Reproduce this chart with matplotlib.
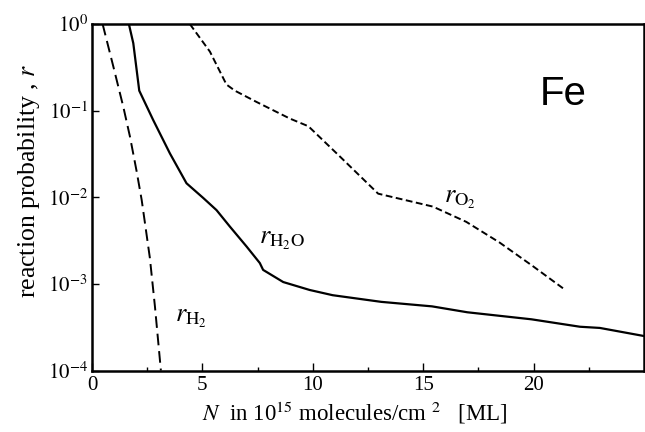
import math
import matplotlib
matplotlib.use("Agg")
import matplotlib.pyplot as plt
from matplotlib.ticker import FixedLocator, FuncFormatter

plt.rcParams['font.family'] = ['Liberation Serif', 'DejaVu Serif']
plt.rcParams['mathtext.fontset'] = 'stix'

# Dados (N em ML, r)
h2_x = [0.48, 0.97, 1.42, 1.72, 2.02, 2.25, 2.40, 2.62, 2.85, 3.12]
h2_r = [1.0, 0.32, 0.11, 0.050, 0.020, 0.0093, 0.0050, 0.0020, 5.5e-4, 1.0e-4]

h2o_x = [1.67, 1.87, 2.14, 2.77, 3.53, 4.28, 5.04, 5.64, 6.24, 7.0, 7.6, 7.75,
         8.66, 9.86, 10.9, 13.1, 15.4, 17.0, 19.9, 22.1, 23.0, 25.0]
h2o_r = [1.0, 0.60, 0.17, 0.078, 0.032, 0.0145, 0.0098, 0.0071, 0.0046, 0.0027,
         0.00174, 0.00145, 0.00105, 0.00085, 0.00074, 0.00062, 0.00055, 0.00047,
         0.00039, 0.00032, 0.00031, 0.00025]

o2_x = [4.43, 5.34, 6.09, 6.47, 7.45, 8.96, 9.8, 11.2, 12.96, 13.5, 15.44,
        16.95, 18.46, 19.97, 21.33]
o2_r = [1.0, 0.48, 0.20, 0.17, 0.126, 0.081, 0.066, 0.030, 0.011, 0.0102,
        0.0078, 0.0052, 0.0030, 0.0016, 0.00089]

x_ticks = [0, 5, 10, 15, 20]
y_ticks = [1e-4, 1e-3, 1e-2, 1e-1, 1e0]

fig = plt.figure(figsize=(6.45, 4.32), dpi=100)
ax = fig.add_axes([92 / 645, 1 - 370.5 / 432, 552 / 645, 346.5 / 432])

ax.plot(h2_x, h2_r, color='black', lw=1.4, dashes=(6, 3))
ax.plot(h2o_x, h2o_r, color='black', lw=1.6)
ax.plot(o2_x, o2_r, color='black', lw=1.4, dashes=(3.5, 1.8))

ax.set_yscale('log')
ax.set_xlim(0, 25)
ax.set_ylim(1e-4, 1)

ax.xaxis.set_major_locator(FixedLocator(x_ticks))
ax.xaxis.set_minor_locator(FixedLocator([2.5, 7.5, 12.5, 17.5, 22.5]))
ax.yaxis.set_major_locator(FixedLocator(y_ticks))
ax.yaxis.set_minor_locator(FixedLocator([]))
ax.yaxis.set_major_formatter(FuncFormatter(lambda v, p: r'$10^{%d}$' % round(math.log10(v))))

ax.tick_params(axis='both', which='both', direction='in', top=False, right=False,
               labelsize=15, width=1)
ax.tick_params(axis='x', which='major', length=6, pad=4)
ax.tick_params(axis='x', which='minor', length=3)
ax.tick_params(axis='y', which='major', length=5, pad=3)

for s in ax.spines.values():
    s.set_linewidth(1.8)

ax.set_ylabel(r'reaction probability , $r$', fontsize=18.5, labelpad=4, y=0.547)
ax.set_xlabel(r'$N$  in 10$^{15}$ molecules/cm $^{2}$   [ML]', fontsize=16.5,
              labelpad=3, x=0.476)

# Rótulos das curvas
ax.text(3.75, 10 ** -3.4, r'$r_{\rm H_2}$', fontsize=19, va='center')
ax.text(7.55, 10 ** -2.51, r'$r_{\rm H_2O}$', fontsize=19, va='center')
ax.text(15.95, 10 ** -2.03, r'$r_{\rm O_2}$', fontsize=19, va='center')
ax.text(21.36, 10 ** -0.81, 'Fe', fontsize=29, family='Liberation Sans',
        ha='center', va='center')

fig.savefig('out.png', dpi=100)
